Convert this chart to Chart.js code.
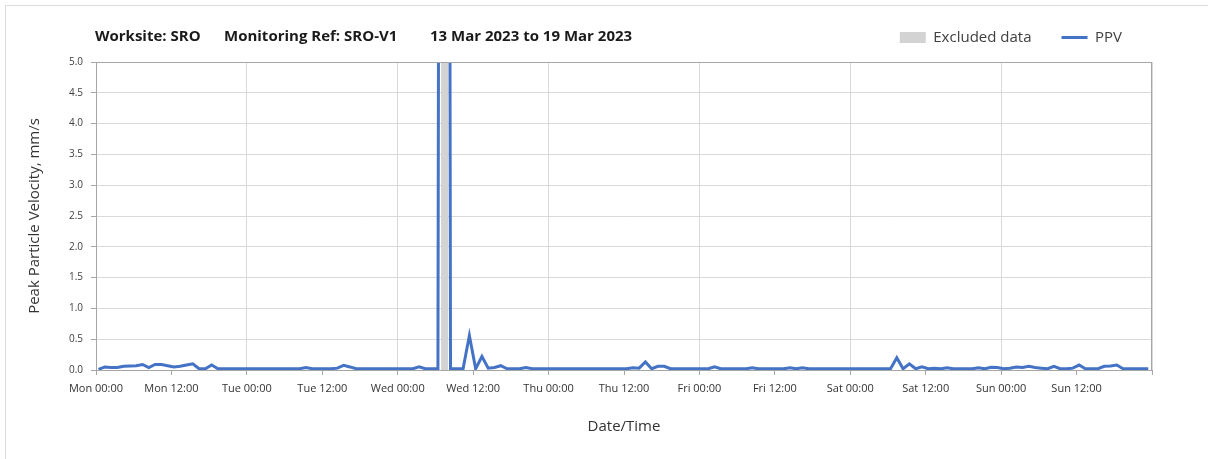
<!DOCTYPE html>
<html lang="en">
<head>
    <meta charset="UTF-8">
    <title>PPV - SRO-V1</title>
    <style>
        html, body {
            margin: 0;
            padding: 0;
            background: #fff;
            overflow: hidden;
        }
        #wrap {
            position: relative;
            width: 1208px;
            height: 459px;
        }
        #frame {
            position: absolute;
            left: 5px;
            top: 5px;
            width: 1300px;
            height: 600px;
            border: 1px solid #dcdcdc;
        }
        #chart {
            position: absolute;
            left: 0;
            top: 0;
        }
    </style>
</head>
<body>
    <div id="wrap">
        <div id="frame"></div>
        <canvas id="chart" width="1208" height="459"></canvas>
    </div>

    <script src="https://cdn.jsdelivr.net/npm/chart.js"></script>
    <script>
        const titleParts = ['Worksite: SRO', 'Monitoring Ref: SRO-V1', '13 Mar 2023 to 19 Mar 2023'];

        // x axis runs in hours from Mon 00:00, one label every 12 h
        const tickLabels = [
            'Mon 00:00', 'Mon 12:00', 'Tue 00:00', 'Tue 12:00', 'Wed 00:00', 'Wed 12:00',
            'Thu 00:00', 'Thu 12:00', 'Fri 00:00', 'Fri 12:00', 'Sat 00:00', 'Sat 12:00',
            'Sun 00:00', 'Sun 12:00', ''
        ];

        // hourly PPV readings (mm/s), first one just after Mon 00:00
        const firstReadingHour = 0.4;
        const ppv = [
            0.01, 0.05, 0.04, 0.04, 0.06, 0.065, 0.07, 0.09, 0.04, 0.09, 0.09, 0.07,
            0.05, 0.06, 0.08, 0.10, 0.02, 0.02, 0.08, 0.02, 0.02, 0.02, 0.02, 0.02,
            0.02, 0.02, 0.02, 0.02, 0.02, 0.02, 0.02, 0.02, 0.02, 0.04, 0.02, 0.02,
            0.02, 0.02, 0.03, 0.075, 0.05, 0.02, 0.02, 0.02, 0.02, 0.02, 0.02, 0.02,
            0.02, 0.02, 0.02, 0.05, 0.02, 0.02, 0.02, 60, 0.02, 0.02, 0.02, 0.56,
            0.02, 0.22, 0.03, 0.04, 0.07, 0.02, 0.02, 0.02, 0.04, 0.02, 0.02, 0.02,
            0.02, 0.02, 0.02, 0.02, 0.02, 0.02, 0.02, 0.02, 0.02, 0.02, 0.02, 0.02,
            0.02, 0.035, 0.03, 0.13, 0.02, 0.06, 0.06, 0.02, 0.02, 0.02, 0.02, 0.02,
            0.02, 0.02, 0.05, 0.02, 0.02, 0.02, 0.02, 0.02, 0.035, 0.02, 0.02, 0.02,
            0.02, 0.02, 0.035, 0.02, 0.035, 0.02, 0.02, 0.02, 0.02, 0.02, 0.02, 0.02,
            0.02, 0.02, 0.02, 0.02, 0.02, 0.02, 0.02, 0.20, 0.02, 0.10, 0.02, 0.05,
            0.02, 0.03, 0.02, 0.035, 0.02, 0.02, 0.02, 0.02, 0.035, 0.02, 0.045, 0.04,
            0.02, 0.03, 0.05, 0.04, 0.06, 0.04, 0.03, 0.02, 0.06, 0.02, 0.02, 0.03,
            0.08, 0.02, 0.02, 0.02, 0.06, 0.065, 0.08, 0.02, 0.02, 0.02, 0.02, 0.02
        ];

        // excluded window, Wed ~06:54 to 08:00
        const excludedFrom = 54.9;
        const excludedTo = 56.0;

        const yMin = 0;
        const yMax = 5;

        Chart.defaults.font.family = "'Open Sans', 'Noto Sans', sans-serif";
        Chart.defaults.color = '#333';

        // legend and header share one row, keep the chart area below it
        const legendSpace = {
            id: 'legendSpace',
            beforeInit(chart) {
                const fit = chart.legend.fit;
                chart.legend.fit = function () {
                    fit.call(this);
                    this.height = 62;
                };
            }
        };

        const headerTitle = {
            id: 'headerTitle',
            afterDraw(chart) {
                const ctx = chart.ctx;
                const xs = [95, 224, 430];
                ctx.save();
                ctx.font = "bold 15px 'Open Sans', sans-serif";
                ctx.fillStyle = '#1a1a1a';
                ctx.textBaseline = 'middle';
                titleParts.forEach((t, i) => ctx.fillText(t, xs[i], 37));
                ctx.restore();
            }
        };

        const plotBorder = {
            id: 'plotBorder',
            afterDatasetsDraw(chart) {
                const { ctx, chartArea: a } = chart;
                ctx.save();
                ctx.strokeStyle = '#a6a6a6';
                ctx.lineWidth = 1;
                ctx.strokeRect(Math.round(a.left) + 0.5, Math.round(a.top) + 0.5,
                    Math.round(a.width) - 1, Math.round(a.height));
                ctx.restore();
            }
        };

        new Chart(document.getElementById('chart'), {
            type: 'line',
            data: {
                datasets: [
                    {
                        label: 'Excluded data',
                        data: [{ x: excludedFrom, y: yMax }, { x: excludedTo, y: yMax }],
                        fill: 'origin',
                        backgroundColor: '#d3d3d3',
                        borderWidth: 0,
                        pointRadius: 0,
                        pointStyle: 'rect',
                        pointBackgroundColor: '#d3d3d3',
                        pointBorderWidth: 0,
                        order: 2
                    },
                    {
                        label: 'PPV',
                        data: ppv.map((v, i) => ({ x: firstReadingHour + i, y: v })),
                        borderColor: '#4472c4',
                        borderWidth: 3,
                        tension: 0,
                        fill: false,
                        pointRadius: 0,
                        pointStyle: 'line',
                        pointBorderColor: '#4472c4',
                        pointBorderWidth: 3,
                        order: 1
                    }
                ]
            },
            options: {
                responsive: false,
                animation: false,
                layout: { padding: { left: 0, right: 56, top: 0, bottom: 0 } },
                plugins: {
                    legend: {
                        position: 'top',
                        align: 'end',
                        labels: {
                            usePointStyle: true,
                            pointStyleWidth: 26,
                            boxHeight: 11,
                            padding: 30,
                            color: '#404040',
                            font: { size: 15 },
                            sort: (a, b) => a.datasetIndex - b.datasetIndex
                        }
                    },
                    title: { display: false },
                    tooltip: { enabled: false }
                },
                scales: {
                    x: {
                        type: 'linear',
                        min: 0,
                        max: 168,
                        afterFit(scale) { scale.height = 89; },
                        ticks: {
                            stepSize: 12,
                            autoSkip: false,
                            maxRotation: 0,
                            padding: 7,
                            color: '#333',
                            font: { size: 11 },
                            callback: (v, i) => tickLabels[i]
                        },
                        grid: {
                            color: c => (c.tick && c.tick.value % 24 === 0) ? '#d9d9d9' : 'rgba(0,0,0,0)',
                            tickColor: '#a6a6a6',
                            tickLength: 5
                        },
                        border: { color: '#a6a6a6' },
                        title: {
                            display: true,
                            text: 'Date/Time',
                            color: '#333',
                            font: { size: 15 },
                            padding: 23
                        }
                    },
                    y: {
                        min: yMin,
                        max: yMax,
                        afterFit(scale) { scale.width = 96; },
                        ticks: {
                            stepSize: 0.5,
                            padding: 8,
                            color: '#404040',
                            font: { size: 10 },
                            callback: v => v.toFixed(1)
                        },
                        grid: {
                            color: '#d9d9d9',
                            tickColor: '#a6a6a6',
                            tickLength: 5
                        },
                        border: { color: '#a6a6a6' },
                        title: {
                            display: true,
                            text: 'Peak Particle Velocity, mm/s',
                            color: '#333',
                            font: { size: 15 },
                            padding: 26
                        }
                    }
                }
            },
            plugins: [legendSpace, headerTitle, plotBorder]
        });
    </script>
</body>
</html>
